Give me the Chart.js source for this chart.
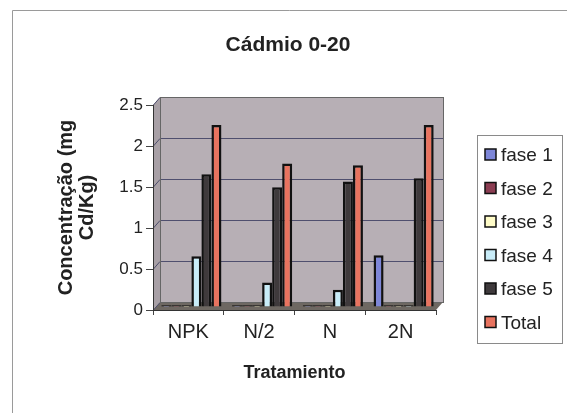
<!DOCTYPE html>
<html>
<head>
<meta charset="utf-8">
<script src="https://cdn.jsdelivr.net/npm/chart.js@4"></script>
<style>
  html, body { margin: 0; padding: 0; background: #fff; }
  #wrap { width: 567px; height: 413px; }
</style>
</head>
<body>
<div id="wrap"><canvas id="chart" width="567" height="413"></canvas></div>
<script>
const categorias = ["NPK", "N/2", "N", "2N"];
const fase1 = [0.02, 0.02, 0.02, 0.63];
const fase2 = [0.02, 0.02, 0.02, 0.02];
const fase3 = [0.02, 0.02, 0.02, 0.02];
const fase4 = [0.62, 0.30, 0.21, 0.02];
const fase5 = [1.62, 1.46, 1.53, 1.57];
const total = [2.22, 1.75, 1.73, 2.22];
const nombres = ["fase 1", "fase 2", "fase 3", "fase 4", "fase 5", "Total"];
const colores = ["#7d86d8", "#8b3d52", "#fffcc8", "#c8ecf8", "#3f3a3c", "#e8735f"];
const ticksY = [0, 0.5, 1, 1.5, 2, 2.5];
const titulo = "Cádmio 0-20";

const fuente = "'Liberation Sans', Arial, sans-serif";
const dx = 7, dy = 8; // profundidad del efecto 3D

// fondo, paredes 3D, rejilla, titulo y leyenda
const fondo3d = {
  id: "fondo3d",
  beforeDraw(chart) {
    const ctx = chart.ctx;
    const a = chart.chartArea;
    const y = chart.scales.y;
    ctx.save();
    // marco exterior
    ctx.strokeStyle = "#9a9a9a";
    ctx.lineWidth = 1;
    ctx.beginPath();
    ctx.moveTo(12.5, 413);
    ctx.lineTo(12.5, 10.5);
    ctx.lineTo(567, 10.5);
    ctx.stroke();
    // pared izquierda
    ctx.fillStyle = "#a8a0a6";
    ctx.beginPath();
    ctx.moveTo(a.left, a.top);
    ctx.lineTo(a.left + dx, a.top - dy);
    ctx.lineTo(a.left + dx, a.bottom - dy);
    ctx.lineTo(a.left, a.bottom);
    ctx.closePath();
    ctx.fill();
    // pared del fondo
    ctx.fillStyle = "#b7afb5";
    ctx.fillRect(a.left + dx, a.top - dy, a.right - a.left, a.bottom - a.top);
    // piso
    ctx.fillStyle = "#6e6862";
    ctx.beginPath();
    ctx.moveTo(a.left, a.bottom);
    ctx.lineTo(a.left + dx, a.bottom - dy);
    ctx.lineTo(a.right + dx, a.bottom - dy);
    ctx.lineTo(a.right, a.bottom);
    ctx.closePath();
    ctx.fill();
    // rejilla
    ctx.strokeStyle = "#4f4f6e";
    ctx.lineWidth = 1;
    ticksY.forEach(v => {
      const py = Math.round(y.getPixelForValue(v)) + 0.5;
      ctx.beginPath();
      ctx.moveTo(a.left, py);
      ctx.lineTo(a.left + dx, py - dy);
      ctx.lineTo(a.right + dx, py - dy);
      ctx.stroke();
    });
    ctx.strokeStyle = "#666";
    ctx.strokeRect(a.left + dx + 0.5, a.top - dy + 0.5, a.right - a.left, a.bottom - a.top);
    // titulo
    ctx.fillStyle = "#222";
    ctx.font = "bold 21px " + fuente;
    ctx.textAlign = "center";
    ctx.textBaseline = "middle";
    ctx.fillText(titulo, 288, 45);
    ctx.restore();
  },
  beforeDatasetsDraw(chart) {
    chart.ctx.save();
    chart.ctx.translate(3, -3);
  },
  afterDatasetsDraw(chart) {
    chart.ctx.restore();
  },
  afterDraw(chart) {
    const ctx = chart.ctx;
    ctx.save();
    // leyenda
    ctx.strokeStyle = "#8a8a8a";
    ctx.lineWidth = 1;
    ctx.strokeRect(477.5, 135.5, 85, 208);
    ctx.font = "19px " + fuente;
    ctx.textBaseline = "middle";
    chart.data.datasets.forEach((ds, i) => {
      const cy = 155 + i * 33.5;
      ctx.fillStyle = ds.backgroundColor;
      ctx.fillRect(485, cy - 6, 11, 11);
      ctx.strokeStyle = "#111";
      ctx.lineWidth = 1.5;
      ctx.strokeRect(485, cy - 6, 11, 11);
      ctx.fillStyle = "#222";
      ctx.fillText(ds.label, 501, cy + 1);
    });
    ctx.restore();
  }
};

const series = [fase1, fase2, fase3, fase4, fase5, total];
const data = {
  labels: categorias,
  datasets: series.map((valores, i) => ({
    label: nombres[i],
    data: valores,
    backgroundColor: colores[i],
    borderColor: "#111",
    borderWidth: 2.5,
    borderSkipped: "bottom",
    categoryPercentage: 0.85,
    barPercentage: 1.0,
  })),
};

const config = {
  type: "bar",
  data: data,
  options: {
    responsive: false,
    animation: false,
    layout: { padding: { left: 0, top: 105, right: 131, bottom: 25 } },
    plugins: {
      legend: { display: false },
      tooltip: { enabled: false },
      title: { display: false },
    },
    scales: {
      x: {
        afterFit(scale) { scale.height = 78; },
        grid: { display: true, drawOnChartArea: false, tickLength: 5, color: "#444" },
        border: { color: "#333" },
        ticks: { color: "#222", padding: 5, font: { family: fuente, size: 20 } },
        title: {
          display: true,
          text: "Tratamiento",
          color: "#222",
          font: { family: fuente, size: 18, weight: "bold" },
          padding: { top: 4, bottom: 4 },
        },
      },
      y: {
        min: 0,
        max: 2.5,
        afterFit(scale) { scale.width = 153; },
        afterBuildTicks(scale) { scale.ticks = ticksY.map(v => ({ value: v })); },
        grid: { display: true, drawOnChartArea: false, tickLength: 7, color: "#444" },
        border: { color: "#333" },
        ticks: {
          color: "#222",
          padding: 3,
          font: { family: fuente, size: 17 },
          callback: v => String(v),
        },
        title: {
          display: true,
          text: ["Concentração (mg", "Cd/Kg)"],
          color: "#222",
          font: { family: fuente, size: 20, weight: "bold", lineHeight: 1.05 },
          padding: { top: 56, bottom: 0 },
        },
      },
    },
  },
  plugins: [fondo3d],
};

const chart = new Chart(document.getElementById("chart").getContext("2d"), config);
</script>
</body>
</html>
